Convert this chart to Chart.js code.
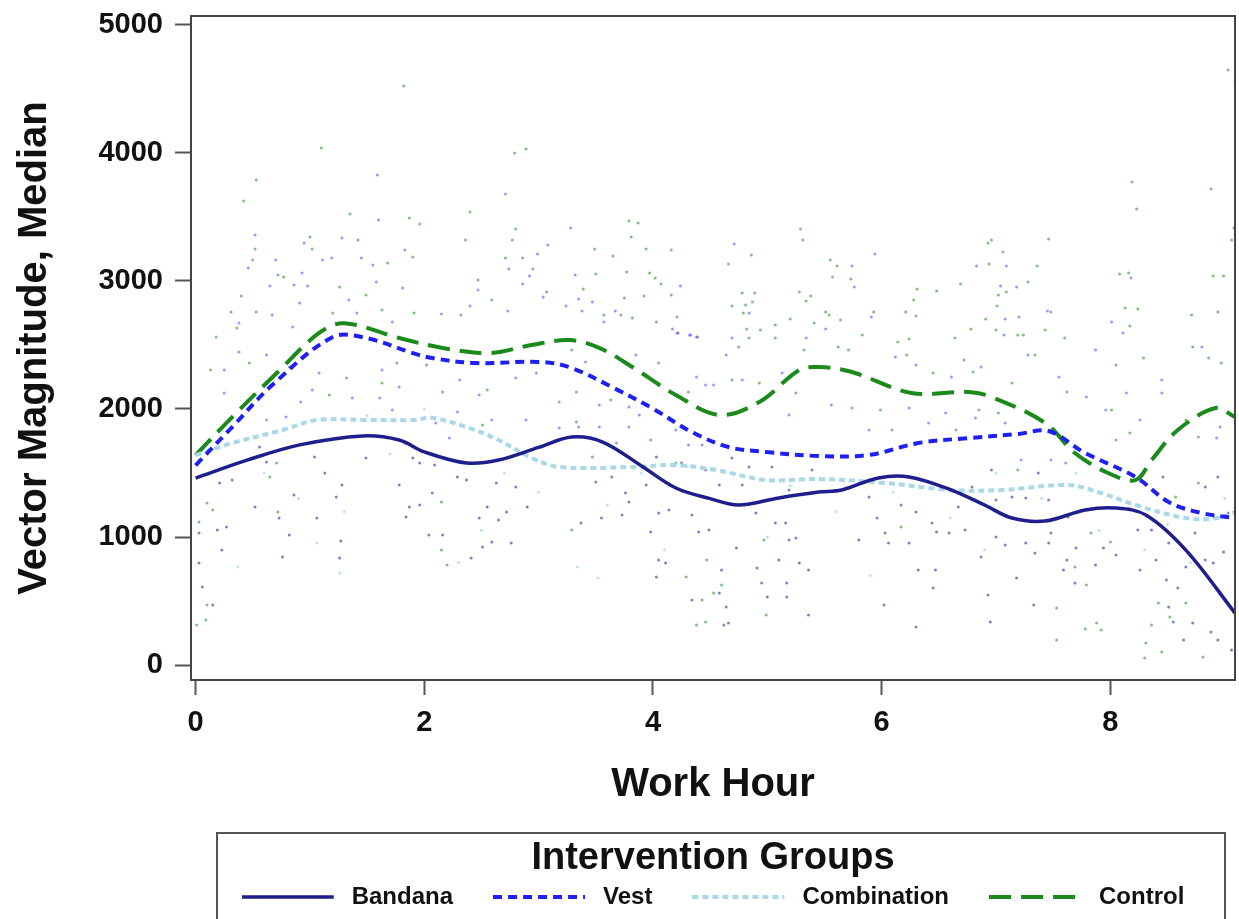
<!DOCTYPE html>
<html>
<head>
<meta charset="utf-8">
<script src="https://cdn.jsdelivr.net/npm/chart.js@4.4.0/dist/chart.umd.min.js"></script>
<style>
  html, body { margin: 0; padding: 0; background: #fff; }
</style>
</head>
<body>
<canvas id="myChart" width="1239" height="919"></canvas>
<script>
// smoothed median curves (work hour, vector magnitude)
const bandanaX = [0, 0.45, 0.91, 1.46, 1.78, 2.0, 2.37, 2.65, 3.0, 3.29, 3.56, 3.9, 4.2, 4.5, 4.75, 5.1, 5.45, 5.65, 5.97, 6.24, 6.61, 6.9, 7.14, 7.43, 7.78, 8.04, 8.31, 8.66, 9.09];
const bandanaY = [1460, 1600, 1720, 1790, 1758, 1665, 1578, 1601, 1700, 1781, 1742, 1555, 1383, 1300, 1250, 1305, 1351, 1367, 1461, 1469, 1367, 1250, 1148, 1125, 1211, 1227, 1172, 898, 406];

const vestX = [0, 0.32, 0.67, 1.2, 1.49, 1.9, 2.07, 2.45, 3.03, 3.29, 3.64, 3.99, 4.34, 4.66, 4.99, 5.45, 5.89, 6.32, 6.76, 7.2, 7.46, 7.78, 8.22, 8.51, 8.8, 9.09];
const vestY = [1560, 1859, 2187, 2562, 2555, 2437, 2398, 2359, 2367, 2320, 2172, 2008, 1820, 1703, 1664, 1633, 1641, 1734, 1773, 1805, 1828, 1656, 1469, 1273, 1187, 1148];

const comboX = [0, 0.32, 0.76, 1.06, 1.49, 1.9, 2.07, 2.37, 2.65, 2.94, 3.18, 3.82, 4.2, 4.55, 4.99, 5.45, 6.03, 6.61, 7.05, 7.63, 7.92, 8.22, 8.66, 8.94, 9.09];
const comboY = [1640, 1734, 1836, 1914, 1914, 1914, 1930, 1859, 1758, 1617, 1547, 1547, 1562, 1523, 1445, 1453, 1422, 1367, 1367, 1406, 1344, 1250, 1148, 1148, 1195];

const controlX = [0, 0.32, 0.71, 1.08, 1.3, 1.78, 2.16, 2.57, 2.94, 3.27, 3.53, 3.82, 4.2, 4.58, 4.93, 5.28, 5.45, 5.74, 6.26, 6.76, 6.96, 7.43, 7.69, 7.98, 8.22, 8.36, 8.59, 8.92, 9.09];
const controlY = [1640, 1937, 2281, 2594, 2670, 2555, 2477, 2437, 2500, 2539, 2477, 2328, 2109, 1953, 2055, 2305, 2328, 2289, 2125, 2133, 2094, 1891, 1656, 1500, 1445, 1601, 1836, 2008, 1937];

const controlDots = [
  [1.82,4523],[1.1,4039],[0.53,3789],[0.42,3625],[1.35,3523],[1.0,3344],[1.87,3492],[0.52,3250],[1.42,3320],
  [2.79,4000],[2.89,4031],[2.4,3539],[1.96,3445],[3.79,3469],[3.87,3453],[3.81,3344],[5.29,3406],[5.31,3320],[2.36,3320],[2.8,3406],[4.86,3203],[3.94,3250],[3.49,3250],[4.16,3242],[3.65,3195],[3.5,3055],[3.77,3070],[3.97,3062],
  [9.03,4648],[9.09,4555],[8.19,3773],[8.23,3563],[8.88,3719],[9.08,3414],[9.06,3320],[7.46,3328],[6.93,3297],[6.96,3320],[7.06,3227],[6.94,3133],[7.36,3117],[5.55,3164],[5.61,3117],[8.08,3055],[8.16,3062],[8.9,3039],[8.99,3039],[6.69,2977],[7.28,2992],[6.31,2937],[6.48,2922],[5.57,3031],[5.73,3016],
  [0.15,1211],[0.03,1117],[0.1,1266],[0.72,1195],[0.65,1469],[0.71,1578],[0.01,312],[0.1,469],[0.09,352],
  [2.15,898],[2.2,781],[3.29,1055],[4.29,688],[4.38,312],[4.46,336],[4.43,508],[4.53,562],[4.6,625],[4.47,820],[4.99,391],[4.97,977],
  [6.17,1078],[7.53,445],[7.53,195],[7.78,281],[7.88,328],[7.92,273],[7.79,625],[7.69,766],[8.31,172],[8.3,55],[8.36,312],[8.45,102],[8.52,375],[8.66,484],[8.81,62],[8.42,484],[8.0,961],[7.83,1031],[8.77,1781],[8.57,1312],[8.77,1422],
  [0.13,2305],[0.47,2359],[1.32,2242],[1.17,2109],[1.76,2359],[1.63,2203],[0.62,1914],[0.82,2328],
  [0.31,2758],[0.4,2883],[0.5,3164],[0.77,3031],[1.02,3250],[1.26,2953],[1.49,2891],[1.68,3141],[1.9,3187],[0.36,2633],[0.18,2562],[1.2,2750],[1.63,2773],
  [2.02,2344],[2.55,2148],[3.18,2055],[3.63,2070],[3.29,2461],[4.05,2359],[4.31,2133],[4.69,2227],[4.93,2203],[5.25,2125],[5.32,2461],[4.84,2555],[4.75,2484],[5.07,2555],
  [2.51,1875],[3.33,1898],[4.17,1914],[4.2,1578],[3.47,1625],[2.15,1273],
  [6.22,2422],[6.45,2281],[6.8,2289],[7.14,2203],[7.34,2422],[7.62,2133],[8.05,2344],[8.29,2398],[8.72,2484],[8.97,2359],[8.86,2398],[8.01,1992],[8.17,1812],[8.66,1914],
  [5.62,2484],[5.71,2461],[5.74,2008],[6.09,1836],[5.99,1992],[6.65,1836],[6.85,1992],[7.02,1969],[7.19,1523],
  [1.91,2750],[2.32,2734],[2.47,3008],[2.59,2852],[2.95,3094],[2.86,3180],[2.71,3180],[3.07,2914],[3.39,2937],[3.57,2734],[3.72,2734],[3.75,2867],[3.82,2711],[3.92,2883],[4.02,3023],[4.07,2977],[4.03,2680],[4.21,2719],[4.16,2891],[4.78,2906],[4.89,2906],[4.81,2812],[4.79,2750],[4.69,2805],[4.87,2836],[4.82,2625],[4.94,2617],[5.07,2656],[5.2,2703],[5.28,2914],[5.38,2883],[5.34,2844],[5.41,2672],
  [5.51,2758],[5.54,2734],[5.93,2758],[5.83,2578],[6.21,2758],[6.3,2727],[6.28,2852],[6.24,2547],[6.14,2523],[6.64,2555],[6.78,2625],[6.91,2703],[7.0,2617],[7.01,2805],[7.02,2891],[7.09,2914],[7.19,2578],[7.24,2578],[7.43,2617],[7.48,2758],[7.6,2555],[8.13,2789],[8.24,2781],[8.17,2648],[8.71,2734],[8.94,2758]
];

const vestDots = [
  [1.59,3828],[1.6,3477],[0.52,3359],[1.28,3336],[0.95,3297],[2.71,3680],[3.28,3414],[4.71,3289],[2.77,3320],[3.08,3281],[1.83,3242],[4.66,3133],[4.24,2961],[3.32,3047],[5.94,3211],[6.83,3117],[7.09,3117],[5.74,3117],[8.18,3023],[5.76,2953],[7.04,2961],[7.18,2953],
  [0.38,2445],[0.25,2305],[0.25,2125],[0.62,2422],[1.02,2148],[1.08,2281],[1.37,2086],[1.63,2305],[1.78,2172],[1.61,2086],[0.92,2055],[0.79,1937],[1.72,1992],
  [0.53,2758],[0.38,2672],[0.46,3102],[0.65,2961],[0.7,3164],[0.72,3047],[0.86,2969],[0.93,3062],[0.98,2961],[1.11,3164],[1.19,3180],[1.34,2852],[1.45,3180],[1.55,3125],[1.58,2992],[1.81,2945],[0.67,2734],[0.91,2828],[1.41,2750],[0.85,2641],[1.72,2680],
  [2.31,2227],[2.16,2133],[2.48,2109],[2.8,2242],[2.98,2281],[3.33,2133],[3.53,2031],[3.79,2016],[3.88,1953],[3.41,2367],[3.85,2422],[4.38,2250],[4.46,2187],[4.53,2187],[4.78,2227],[5.13,2281],[5.19,1953],[5.34,2555],[4.64,2422],[4.21,2594],[4.33,2578],[4.38,2562],
  [2.59,1914],[2.89,1914],[2.29,1977],[2.1,1891],[2.22,1773],[3.18,1852],[3.35,1859],[3.53,1859],[3.68,1734],[3.79,1859],[3.98,1758],[4.2,1836],[4.31,1719],[4.43,1719],
  [6.12,2406],[6.3,2344],[6.61,2250],[6.72,2383],[6.87,2328],[7.28,2422],[7.55,2250],[7.79,2094],[7.87,2461],[8.14,2125],[8.45,2227],[8.45,2125],[8.8,2484],[7.96,1992],[8.26,1914],[8.05,1758],[8.96,1859],[8.93,1773],
  [5.56,2031],[5.89,1836],[6.24,2008],[6.41,1891],[6.56,1969],[6.82,1930],[7.08,1891],[7.22,1601],[7.48,1601],[7.61,1578],
  [2.15,2742],[2.4,2805],[2.47,2930],[2.86,2977],[2.99,3211],[2.92,3039],[2.74,3094],[2.73,2766],[3.04,2875],[3.24,2805],[3.35,2859],[3.38,2766],[3.47,2836],[3.57,2680],[3.67,2766],[4.17,2625],[4.22,2594],[4.32,2578],[4.39,2562],[4.84,2750],[4.69,2555],
  [5.51,2625],[5.64,2695],[5.91,2719],[7.08,2703],[7.07,2578],[7.2,2719],[7.45,2766],[8.01,2680],[8.11,2594]
];

const bandanaDots = [
  [0.03,797],[0.06,609],[0.15,469],[0.03,1031],[0.19,1055],[0.27,1078],[0.23,898],[0.76,844],[1.26,836],[1.27,969],[0.82,1016],[0.73,1148],[1.23,1312],[0.86,1328],[1.06,1148],[1.28,1406],[0.52,1234],[1.49,1617],[1.87,1234],[1.84,1156],[1.78,1406],[0.21,1422],[0.32,1445],[0.62,1586],[1.04,1625],[1.13,1500],[0.56,1703],
  [2.04,1016],[2.16,1016],[2.41,836],[2.51,922],[2.59,961],[2.48,1148],[2.65,1133],[2.9,1234],[2.76,953],[3.37,1109],[3.55,1148],[3.73,1172],[3.79,1273],[4.05,820],[4.03,688],[3.98,1039],[4.11,797],[4.34,508],[4.62,312],[4.66,328],[4.64,453],[4.58,562],[4.6,742],[4.73,914],[4.91,758],[4.95,641],[5.0,531],[5.17,641],[5.17,531],[5.36,391],[5.28,797],[5.19,977],[5.36,742],[5.1,820],
  [6.02,469],[6.3,297],[6.32,742],[6.45,602],[6.47,742],[6.93,547],[6.95,336],[7.33,469],[7.69,641],[7.87,781],[8.55,336],[8.64,195],[8.51,453],[8.72,328],[8.88,258],[9.06,117],[8.94,195],[8.59,602],[8.66,766],[8.83,820],[8.9,797],[8.99,883],[8.26,742],[8.4,820],[8.49,664],[8.51,953],[8.36,1055],[8.74,1031],[9.03,1187],[8.94,1469],[8.83,1391],[8.46,1469],
  [1.9,1617],[1.96,1578],[2.09,1562],[2.29,1469],[2.37,1445],[2.63,1422],[2.8,1391],[2.07,1344],[1.96,1250],[2.55,1234],[2.72,1195],
  [4.25,1578],[4.03,1625],[4.46,1523],[4.69,1617],[4.84,1547],[5.04,1547],[5.19,1367],[5.39,1523],[4.78,1406],[4.58,1406],[3.94,1406],[3.76,1344],[3.64,1469],[3.5,1430],[4.05,1187],[4.14,1211],[4.34,1172],[4.4,1039],[4.49,1055],[5.07,1109],[5.16,1109],[5.25,992],[4.9,1187],
  [5.8,977],[6.03,1031],[6.06,953],[5.96,1148],[6.24,953],[5.89,1312],[6.17,1250],[6.3,1195],[6.44,1109],[6.48,1039],[6.67,1234],[6.79,1391],[6.87,844],[7.0,1000],[7.08,938],[7.26,953],[7.18,680],[7.34,875],[7.46,953],[7.48,1031],[7.62,820],[7.59,742],[7.7,914],[7.94,914],[8.05,859],[8.24,1055],[7.63,1156],[7.46,1289],[7.26,1305],[7.0,1289],[7.14,1312],[6.73,1055],[6.59,1031],[7.37,1500],[6.96,1523]
];

const comboDots = [
  [1.06,953],[1.26,719],[0.37,766],[3.34,766],[3.52,680],[0.05,1600],[0.2,1700],[0.6,1500],[1.5,1950],[2.0,2000],[2.7,1500],[3.0,1350],[3.9,1500],[4.3,1550],[4.8,1250],[5.2,1400],[5.6,1200],[6.1,1350],[6.6,1150],[7.0,1500],[7.4,1300],[7.9,1050],[8.3,900],[8.7,800],[9.0,1300],[2.3,800],[1.3,1200],[0.9,1300],[5.9,700],[6.9,900],[2.5,1050],[1.7,1650],[3.6,1250],[4.1,900],[5.0,1000],[7.7,1500],[8.5,1100]
];

const groupNames = ['Bandana', 'Vest', 'Combination', 'Control'];
const xTickValues = [0, 2, 4, 6, 8];
const yTickValues = [0, 1000, 2000, 3000, 4000, 5000];

const FONT = "'Liberation Sans', Arial, Helvetica, sans-serif";

const toPoints = (xs, ys) => xs.map((x, i) => ({ x, y: ys[i] }));
const dotPoints = arr => arr.map(d => ({ x: d[0], y: d[1] }));

const lineStyles = [
  { color: '#1e1e8c', dash: [], width: 3.5 },
  { color: '#1f1ff5', dash: [9, 6], width: 4 },
  { color: '#aad8e8', dash: [6, 4], width: 4 },
  { color: '#1a8a1a', dash: [22, 10], width: 4 }
];

// small canvas used as the legend line sample
function makeSample(style) {
  const c = document.createElement('canvas');
  c.width = 98;
  c.height = 8;
  const ctx = c.getContext('2d');
  ctx.strokeStyle = style.color;
  ctx.lineWidth = style.width;
  ctx.setLineDash(style.dash);
  ctx.beginPath();
  ctx.moveTo(0, 4);
  ctx.lineTo(92, 4);
  ctx.stroke();
  return c;
}
const samples = lineStyles.map(makeSample);

const lineSets = [
  toPoints(bandanaX, bandanaY),
  toPoints(vestX, vestY),
  toPoints(comboX, comboY),
  toPoints(controlX, controlY)
];

const dotSets = [bandanaDots, vestDots, comboDots, controlDots];
const dotColors = ['rgba(45,45,160,0.6)', 'rgba(70,70,255,0.55)', 'rgba(160,215,235,0.7)', 'rgba(40,150,40,0.6)'];

const datasets = [];
lineSets.forEach((pts, i) => {
  datasets.push({
    label: groupNames[i],
    data: pts,
    showLine: true,
    borderColor: lineStyles[i].color,
    borderWidth: lineStyles[i].width,
    borderDash: lineStyles[i].dash,
    pointRadius: 0,
    tension: 0.35,
    fill: false,
    order: 0
  });
});
dotSets.forEach((arr, i) => {
  datasets.push({
    label: groupNames[i] + ' obs',
    data: dotPoints(arr),
    showLine: false,
    pointRadius: 1.5,
    pointBorderWidth: 0,
    pointBackgroundColor: dotColors[i],
    order: 1
  });
});

// frame around the plot and around the legend
const framePlugin = {
  id: 'frames',
  afterDraw(chart) {
    const ctx = chart.ctx;
    const a = chart.chartArea;
    ctx.save();
    ctx.strokeStyle = '#444';
    ctx.lineWidth = 2;
    ctx.strokeRect(a.left, a.top, a.right - a.left, a.bottom - a.top);
    const l = chart.legend;
    ctx.strokeStyle = '#555';
    ctx.strokeRect(l.left + 26, l.top + 1, (l.right - 10) - (l.left + 26), 200);
    ctx.restore();
  }
};

const tickFont = { family: FONT, size: 29, weight: 'bold' };

new Chart(document.getElementById('myChart'), {
  type: 'scatter',
  data: { datasets },
  options: {
    responsive: false,
    animation: false,
    events: [],
    layout: { padding: { top: 16, right: 2, left: 0, bottom: 0 } },
    scales: {
      x: {
        type: 'linear',
        min: -0.04,
        max: 9.09,
        afterBuildTicks: s => { s.ticks = xTickValues.map(v => ({ value: v })); },
        afterFit: s => { s.height = 152; s.paddingLeft = 0; s.paddingRight = 0; },
        ticks: { font: tickFont, color: '#111', padding: 11, maxRotation: 0, callback: v => String(v) },
        grid: { drawOnChartArea: false, drawTicks: true, tickLength: 15, tickWidth: 2, tickColor: '#555' },
        border: { display: false },
        title: { display: true, text: 'Work Hour', color: '#111', font: { family: FONT, size: 40, weight: 'bold' }, padding: { bottom: 23 } }
      },
      y: {
        type: 'linear',
        min: -117,
        max: 5070,
        afterBuildTicks: s => { s.ticks = yTickValues.map(v => ({ value: v })); },
        afterFit: s => { s.width = 191; s.paddingTop = 0; s.paddingBottom = 0; },
        ticks: { font: tickFont, color: '#111', padding: 12, callback: v => String(v) },
        grid: { drawOnChartArea: false, drawTicks: true, tickLength: 16, tickWidth: 2, tickColor: '#555' },
        border: { display: false },
        title: { display: true, text: 'Vector Magnitude, Median', color: '#111', font: { family: FONT, size: 40, weight: 'bold' }, padding: { top: 11 } }
      }
    },
    plugins: {
      tooltip: { enabled: false },
      legend: {
        position: 'bottom',
        fullSize: false,
        title: {
          display: true,
          text: 'Intervention Groups',
          color: '#111',
          font: { family: FONT, size: 38, weight: 'bold', lineHeight: 1.0 },
          padding: { top: 8, bottom: -33 }
        },
        labels: {
          usePointStyle: true,
          pointStyleWidth: 98,
          boxHeight: 8,
          padding: 40,
          color: '#111',
          font: { family: FONT, size: 24, weight: 'bold' },
          generateLabels: () => groupNames.map((name, i) => ({
            text: name,
            pointStyle: samples[i],
            fillStyle: lineStyles[i].color,
            strokeStyle: lineStyles[i].color,
            lineWidth: 0,
            hidden: false,
            datasetIndex: i
          }))
        }
      }
    }
  },
  plugins: [framePlugin]
});
</script>
</body>
</html>
